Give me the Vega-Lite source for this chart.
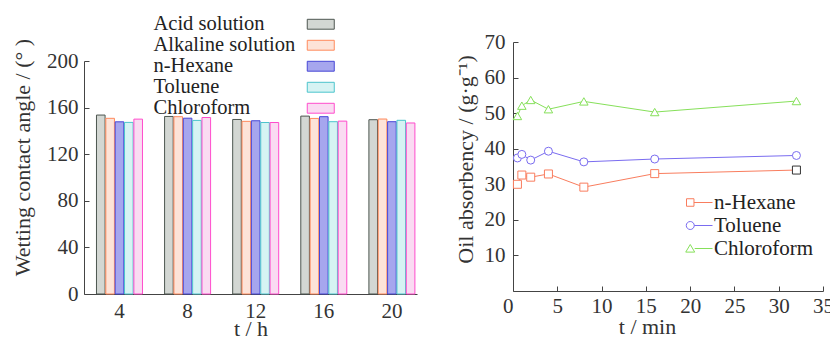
{
  "$schema": "https://vega.github.io/schema/vega-lite/v6.json",
  "padding": {"top": 14, "left": 10, "right": 0, "bottom": 0},
  "background": "white",
  "config": {
    "view": {"stroke": null},
    "font": "Liberation Serif",
    "axis": {"labelFont": "Liberation Serif", "titleFont": "Liberation Serif", "labelFontSize": 21, "titleFontSize": 22, "titleFontWeight": "normal", "labelColor": "#333", "titleColor": "#333", "domainColor": "#444", "tickColor": "#444", "grid": false},
    "legend": {"labelFont": "Liberation Serif", "labelColor": "#222"}
  },
  "align": "none",
  "spacing": 36,
  "resolve": {
    "scale": {"x": "independent", "y": "independent", "fill": "independent", "stroke": "independent", "color": "independent", "shape": "independent"},
    "legend": {"fill": "independent", "stroke": "independent", "color": "independent", "shape": "independent"}
  },
  "hconcat": [
    {
      "width": 333,
      "height": 252,
      "data": {"values": [
        {"t": 4, "medium": "Acid solution", "angle": 153.6},
        {"t": 4, "medium": "Alkaline solution", "angle": 150.8},
        {"t": 4, "medium": "n-Hexane", "angle": 147.8},
        {"t": 4, "medium": "Toluene", "angle": 147.3},
        {"t": 4, "medium": "Chloroform", "angle": 150.1},
        {"t": 8, "medium": "Acid solution", "angle": 152.4},
        {"t": 8, "medium": "Alkaline solution", "angle": 152.2},
        {"t": 8, "medium": "n-Hexane", "angle": 150.9},
        {"t": 8, "medium": "Toluene", "angle": 149},
        {"t": 8, "medium": "Chloroform", "angle": 151.5},
        {"t": 12, "medium": "Acid solution", "angle": 149.8},
        {"t": 12, "medium": "Alkaline solution", "angle": 148.2},
        {"t": 12, "medium": "n-Hexane", "angle": 148.7},
        {"t": 12, "medium": "Toluene", "angle": 147.2},
        {"t": 12, "medium": "Chloroform", "angle": 147.2},
        {"t": 16, "medium": "Acid solution", "angle": 152.7},
        {"t": 16, "medium": "Alkaline solution", "angle": 150.7},
        {"t": 16, "medium": "n-Hexane", "angle": 152.2},
        {"t": 16, "medium": "Toluene", "angle": 147.9},
        {"t": 16, "medium": "Chloroform", "angle": 148.4},
        {"t": 20, "medium": "Acid solution", "angle": 149.6},
        {"t": 20, "medium": "Alkaline solution", "angle": 150.2},
        {"t": 20, "medium": "n-Hexane", "angle": 147.9},
        {"t": 20, "medium": "Toluene", "angle": 149.1},
        {"t": 20, "medium": "Chloroform", "angle": 146.8}
      ]},
      "mark": {"type": "bar", "strokeWidth": 1},
      "encoding": {
        "x": {"field": "t", "type": "ordinal",
          "scale": {"paddingInner": 0.3245, "paddingOuter": 0.107, "align": 0.856},
          "axis": {"title": "t / h", "labelAngle": 0, "ticks": false, "labelPadding": 6, "titleY": 34, "titleBaseline": "middle"}},
        "xOffset": {"field": "medium", "type": "nominal", "sort": ["Acid solution", "Alkaline solution", "n-Hexane", "Toluene", "Chloroform"], "scale": {"paddingInner": 0.08, "paddingOuter": 0}},
        "y": {"field": "angle", "type": "quantitative",
          "scale": {"domain": [0, 200], "range": [252, 19]},
          "axis": {"title": "Wetting contact angle / (° )", "values": [0, 40, 80, 120, 160, 200], "tickSize": -5, "labelPadding": 11, "titleX": -62, "titleY": 115, "titleAngle": -90, "titleAlign": "center", "titleBaseline": "middle"}},
        "fill": {"field": "medium", "type": "nominal",
          "scale": {"domain": ["Acid solution", "Alkaline solution", "n-Hexane", "Toluene", "Chloroform"], "range": ["#d3d7d3", "#fde3d8", "#a6a6ee", "#d6f3f3", "#fadbf2"]},
          "legend": {"orient": "none", "legendX": 226.5, "legendY": -28, "title": null, "labelFontSize": 20.5, "labelOffset": -177.5, "symbolType": "M-1.5,-0.55H1.5V0.55H-1.5Z", "symbolSize": 324, "symbolStrokeWidth": 1, "rowPadding": -3.5, "padding": 0, "labelLimit": 300}},
        "stroke": {"field": "medium", "type": "nominal",
          "scale": {"domain": ["Acid solution", "Alkaline solution", "n-Hexane", "Toluene", "Chloroform"], "range": ["#4d5650", "#ff8a5c", "#4747d6", "#4cc4cc", "#ff4ccc"]},
          "legend": {"orient": "none", "legendX": 226.5, "legendY": -28, "title": null, "labelFontSize": 20.5, "labelOffset": -177.5, "symbolType": "M-1.5,-0.55H1.5V0.55H-1.5Z", "symbolSize": 324, "symbolStrokeWidth": 1, "rowPadding": -3.5, "padding": 0, "labelLimit": 300}}
      }
    },
    {
      "width": 310,
      "height": 249,
      "data": {"values": [
        {"t": 0.5, "series": "n-Hexane", "v": 30.0},
        {"t": 1, "series": "n-Hexane", "v": 32.6},
        {"t": 2, "series": "n-Hexane", "v": 32.0},
        {"t": 4, "series": "n-Hexane", "v": 32.9},
        {"t": 8, "series": "n-Hexane", "v": 29.2},
        {"t": 16, "series": "n-Hexane", "v": 33.0},
        {"t": 32, "series": "n-Hexane", "v": 34.0},
        {"t": 0.5, "series": "Toluene", "v": 37.4},
        {"t": 1, "series": "Toluene", "v": 38.4},
        {"t": 2, "series": "Toluene", "v": 36.8},
        {"t": 4, "series": "Toluene", "v": 39.3},
        {"t": 8, "series": "Toluene", "v": 36.3},
        {"t": 16, "series": "Toluene", "v": 37.1},
        {"t": 32, "series": "Toluene", "v": 38.1},
        {"t": 0.5, "series": "Chloroform", "v": 49.2},
        {"t": 1, "series": "Chloroform", "v": 52.1},
        {"t": 2, "series": "Chloroform", "v": 53.7},
        {"t": 4, "series": "Chloroform", "v": 51.1},
        {"t": 8, "series": "Chloroform", "v": 53.3},
        {"t": 16, "series": "Chloroform", "v": 50.3},
        {"t": 32, "series": "Chloroform", "v": 53.4}
      ]},
      "encoding": {
        "x": {"field": "t", "type": "quantitative",
          "scale": {"domain": [0, 35]},
          "axis": {"title": "t / min", "values": [0, 5, 10, 15, 20, 25, 30, 35], "tickSize": -5, "labelPadding": 9, "titleX": 134, "titleY": 35, "titleBaseline": "middle",
            "labelAlign": {"condition": {"test": "datum.value == 0", "value": "right"}, "value": "center"}}},
        "y": {"field": "v", "type": "quantitative",
          "scale": {"domain": [0, 70]},
          "axis": {"title": "Oil absorbency / (g·g⁻¹)", "values": [10, 20, 30, 40, 50, 60, 70], "tickSize": -5, "labelPadding": 13, "titleX": -48, "titleY": 117, "titleAngle": -90, "titleAlign": "center", "titleBaseline": "middle"}}
      },
      "layer": [
        {"mark": {"type": "line", "strokeWidth": 1},
          "encoding": {
            "color": {"field": "series", "type": "nominal",
              "scale": {"domain": ["n-Hexane", "Toluene", "Chloroform"], "range": ["#f97d5e", "#7a6cf0", "#86e05a"]},
              "legend": {"orient": "none", "legendX": 176, "legendY": 150, "title": null, "labelFontSize": 21, "symbolSize": 256, "symbolStrokeWidth": 1, "labelOffset": 4, "rowPadding": 1, "padding": 0,
                "encode": {"symbols": {"update": {
                  "shape": {"signal": "datum.value === 'n-Hexane' ? 'M-1.625,-0.47H-0.69V0.47H-1.625Z M-0.69,0H1.625' : datum.value === 'Toluene' ? 'M-0.656,0A0.5,0.5 0 1,0 -1.656,0A0.5,0.5 0 1,0 -0.656,0Z M-0.656,0H1.625' : 'M-1.156,-0.5L-0.6,0.45H-1.72Z M-0.6,0H1.625'"},
                  "fill": {"value": "transparent"}}}}}}
          }},
        {"transform": [{"filter": "datum.series === 'n-Hexane'"}],
          "mark": {"type": "point", "shape": "square", "filled": false, "fill": "white", "fillOpacity": 1, "opacity": 1, "size": 64, "strokeWidth": 1},
          "encoding": {
            "color": {"condition": {"test": "datum.t == 32", "value": "#333"}, "field": "series", "type": "nominal"}
          }},
        {"transform": [{"filter": "datum.series === 'Toluene'"}],
          "mark": {"type": "point", "shape": "circle", "filled": false, "fill": "white", "fillOpacity": 1, "opacity": 1, "size": 64, "strokeWidth": 1},
          "encoding": {
            "color": {"field": "series", "type": "nominal"}
          }},
        {"transform": [{"filter": "datum.series === 'Chloroform'"}],
          "mark": {"type": "point", "shape": "triangle-up", "filled": false, "fill": "white", "fillOpacity": 1, "opacity": 1, "size": 72, "strokeWidth": 1},
          "encoding": {
            "color": {"field": "series", "type": "nominal"}
          }}
      ]
    }
  ]
}
